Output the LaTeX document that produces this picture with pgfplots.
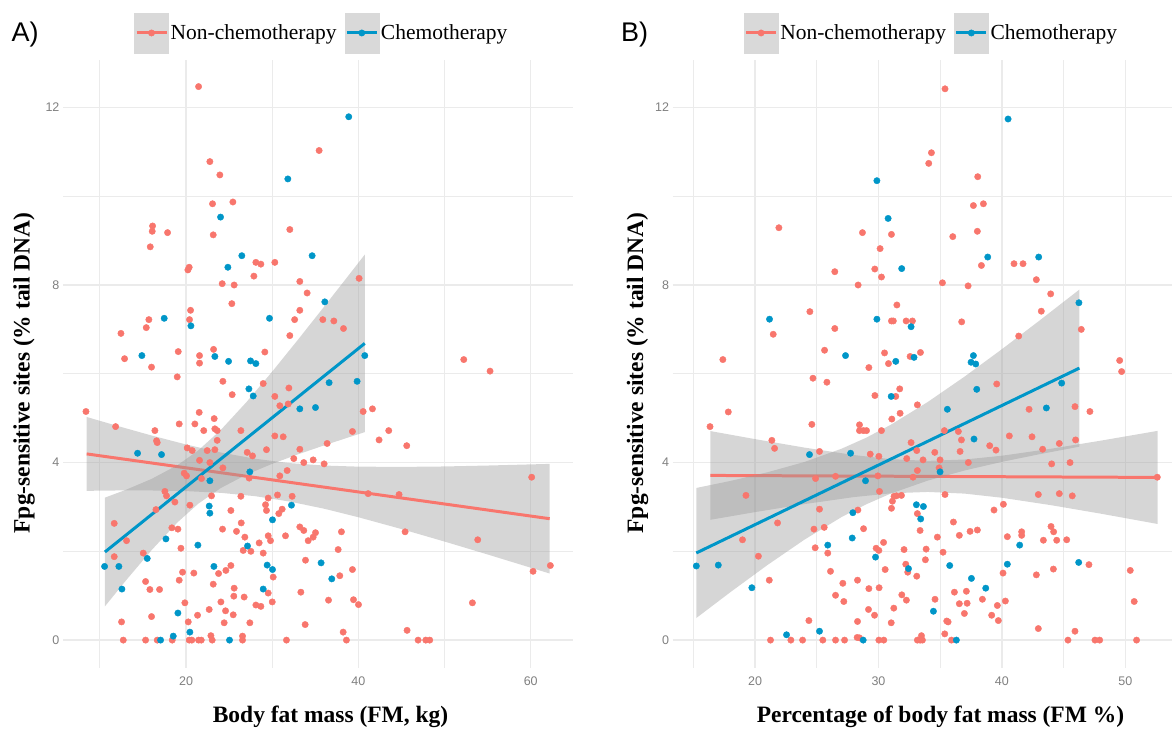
\documentclass[border=0pt]{standalone}
\usepackage{pgfplots}
\pgfplotsset{compat=1.18}
\usepackage{pgfplotstable}
\usepackage{fontspec}
\setmainfont{Liberation Serif}
\setsansfont{Liberation Sans}
\definecolor{salmon}{HTML}{F8766D}
\definecolor{chemo}{HTML}{0096C8}
\definecolor{gridgray}{HTML}{EBEBEB}
\definecolor{tickgray}{HTML}{7F7F7F}
\definecolor{bandgray}{HTML}{999999}
\definecolor{keygray}{HTML}{D9D9D9}

% ---------- Panel A: body fat mass (kg) ----------
\pgfplotstableread{
x y
21.45 12.47
35.44 11.03
22.76 10.78
23.92 10.48
23.07 9.83
25.43 9.87
16.11 9.33
16.07 9.21
17.85 9.18
23.15 9.13
32.04 9.25
15.84 8.86
20.36 8.40
20.21 8.34
28.10 8.51
28.68 8.47
30.30 8.51
27.87 8.20
24.19 8.03
25.58 8.00
33.20 8.08
34.05 7.82
25.31 7.58
33.20 7.43
32.60 7.22
35.87 7.22
37.15 7.19
20.52 7.43
20.40 7.22
15.68 7.22
15.38 7.04
12.44 6.91
32.04 6.86
12.86 6.34
19.09 6.50
15.99 6.15
21.56 6.41
21.56 6.24
23.19 6.55
29.14 6.49
18.97 5.93
24.27 5.83
38.27 7.02
40.08 8.15
52.23 6.32
55.28 6.06
40.55 5.15
41.63 5.21
39.31 4.70
43.52 4.72
42.40 4.51
45.61 4.38
36.37 4.43
33.20 4.30
33.66 4.00
34.75 4.06
36.02 3.97
41.13 3.30
44.72 3.28
60.11 3.67
33.20 2.55
33.66 2.47
34.17 2.24
34.75 2.32
35.02 2.42
38.03 2.44
45.42 2.44
53.85 2.26
37.65 2.04
33.86 1.80
37.84 1.45
39.31 1.59
60.27 1.55
62.28 1.68
33.32 1.08
36.53 0.90
39.43 0.91
40.01 0.80
53.23 0.84
33.82 0.35
38.23 0.18
38.61 0
45.65 0.22
46.93 0
47.82 0
48.28 0
28.95 5.78
31.93 5.68
25.35 5.53
30.30 5.49
30.88 5.28
31.85 5.32
8.38 5.15
11.82 4.81
16.38 4.72
16.57 4.49
16.65 4.45
19.20 4.87
21.02 4.87
21.52 5.13
23.26 4.99
22.05 4.72
23.34 4.76
23.61 4.72
23.61 4.50
26.36 4.72
30.30 4.60
31.27 4.58
20.13 4.33
20.71 4.27
22.45 4.27
23.34 4.29
27.09 4.23
27.71 4.15
29.33 4.29
32.50 4.09
21.56 4.05
22.76 4.00
24.27 3.88
19.78 3.76
20.05 3.70
21.79 3.64
27.32 3.65
30.88 3.70
31.73 3.82
17.54 3.35
17.73 3.25
18.70 3.11
20.44 3.04
22.95 3.25
26.36 3.24
30.61 3.27
32.31 3.24
29.53 3.20
29.22 3.05
29.33 2.92
31.15 2.95
30.76 2.85
16.50 2.94
11.66 2.63
25.20 2.92
26.40 2.64
24.23 2.50
25.85 2.45
26.82 2.32
28.48 2.19
29.53 2.35
29.80 2.24
31.54 2.35
18.35 2.53
19.05 2.50
13.09 2.24
26.63 2.02
27.52 2.00
28.95 1.96
19.40 2.07
11.66 1.88
15.03 1.96
19.59 1.53
20.90 1.51
23.77 1.50
24.62 1.57
25.20 1.68
30.11 1.42
15.30 1.32
19.20 1.35
15.80 1.14
16.92 1.14
23.15 1.26
25.58 1.17
25.54 0.99
26.74 0.97
29.53 1.06
30.00 0.86
19.86 0.84
24.04 0.86
28.10 0.79
28.68 0.76
22.68 0.69
24.58 0.66
25.47 0.57
15.99 0.53
21.33 0.56
20.25 0.41
12.51 0.41
24.42 0.39
27.40 0.39
22.88 0.10
26.55 0.09
12.71 0
15.30 0
16.65 0
18.39 0
20.36 0
20.67 0
21.45 0
21.76 0
23.03 0
26.55 0
31.65 0
}\tAN

\pgfplotstableread{
x y
31.81 10.39
24.00 9.53
26.47 8.66
34.63 8.66
24.85 8.40
36.10 7.62
17.46 7.25
29.68 7.25
20.56 7.08
14.87 6.41
23.34 6.39
24.93 6.28
27.48 6.29
28.10 6.23
38.88 11.79
40.74 6.41
39.85 5.83
36.60 5.80
33.20 5.21
35.02 5.24
35.67 1.74
36.91 1.38
27.29 5.66
27.79 5.50
14.37 4.21
17.15 4.18
22.76 3.59
27.40 3.79
22.68 3.02
22.76 2.86
32.23 3.04
30.03 2.71
17.66 2.28
21.37 2.14
27.13 2.12
15.49 1.84
10.54 1.66
12.20 1.66
23.23 1.66
29.41 1.69
30.03 1.59
12.55 1.15
28.95 1.15
19.05 0.61
20.44 0.18
18.51 0.09
17.04 0
25.04 0
}\tAC

% fitted lines, panel A
\pgfplotstableread{
x y
8.46 4.195
62.2 2.735
}\tAfitN
\pgfplotstableread{
x y
10.58 1.985
40.74 6.685
}\tAfitC
% 95% confidence bands (upper edge left to right, lower edge right to left)
\pgfplotstableread{
x y
8.46 5.027
12 4.827
16 4.609
20 4.407
24 4.228
28 4.086
32 3.988
36 3.933
40 3.908
45 3.902
50 3.912
55 3.933
62.2 3.970
62.2 1.500
55 1.929
50 2.220
45 2.502
40 2.768
36 2.961
32 3.122
28 3.243
24 3.318
20 3.357
16 3.371
12 3.371
8.46 3.363
}\tAbandN
\pgfplotstableread{
x y
10.58 3.210
13 3.385
16 3.632
19 3.942
21.4 4.271
24 4.729
27 5.360
30 6.050
33 6.771
36 7.507
38.5 8.127
40.74 8.685
40.74 4.685
38.5 4.545
36 4.385
33 4.186
30 3.972
27 3.728
24 3.423
21.4 3.071
19 2.652
16 2.028
13 1.339
10.58 0.760
}\tAbandC

% ---------- Panel B: percentage of body fat mass ----------
\pgfplotstableread{
x y
21.93 9.29
28.70 9.18
31.05 9.14
30.13 8.82
26.46 8.30
29.70 8.36
30.24 8.18
28.35 8.00
31.49 7.55
24.44 7.40
31.05 7.19
31.20 7.19
21.47 6.89
26.46 7.02
25.63 6.53
30.49 6.47
30.81 6.23
29.22 6.14
17.39 6.32
24.69 5.90
25.82 5.81
35.39 12.42
34.29 10.98
34.07 10.74
38.04 10.44
37.69 9.79
38.50 9.83
36.02 9.09
38.01 9.21
38.34 8.44
40.98 8.48
41.71 8.48
42.79 8.12
35.18 8.05
37.26 7.98
43.95 7.80
43.19 7.41
36.74 7.17
32.24 7.19
32.75 7.19
46.43 7.00
41.36 6.85
32.56 6.39
33.40 6.48
49.54 6.30
49.70 6.05
29.71 5.51
31.72 5.66
31.40 5.49
17.83 5.14
16.35 4.81
24.60 4.86
28.46 4.85
28.46 4.72
28.78 4.72
29.03 4.72
30.24 4.72
31.08 4.98
21.36 4.50
21.58 4.32
25.22 4.25
29.33 4.19
30.03 4.14
24.90 3.64
26.52 3.69
29.95 3.70
30.08 3.35
19.26 3.26
25.22 2.95
21.82 2.64
24.77 2.50
25.60 2.54
28.33 2.93
28.79 2.51
18.98 2.26
24.87 2.08
25.89 1.96
29.81 2.07
30.03 2.02
30.41 2.20
20.27 1.89
30.54 1.59
26.11 1.55
21.15 1.35
27.11 1.28
28.30 1.35
29.22 1.16
30.05 1.18
26.52 1.01
27.19 0.87
29.19 0.69
29.68 0.56
31.24 0.72
24.36 0.44
28.30 0.42
31.03 0.39
28.27 0.06
28.46 0.05
21.25 0
22.90 0
23.85 0
25.49 0
26.52 0
27.25 0
30.03 0
30.43 0
39.58 5.77
47.13 5.15
33.15 5.30
31.75 5.11
42.20 5.20
45.92 5.26
35.34 4.72
36.47 4.70
36.72 4.51
40.60 4.60
42.44 4.58
45.97 4.51
44.65 4.43
32.64 4.45
33.10 4.27
34.56 4.23
36.61 4.25
39.01 4.38
39.52 4.28
43.30 4.30
32.29 4.09
33.61 4.06
34.99 4.06
37.28 4.00
44.03 3.97
45.52 4.00
33.15 3.82
34.91 3.88
32.80 3.67
52.59 3.67
35.39 3.28
42.95 3.28
44.65 3.30
45.70 3.25
31.26 3.24
31.45 3.25
31.86 3.26
31.13 3.13
31.05 2.97
33.15 2.85
33.37 2.47
39.36 2.93
40.12 3.06
36.07 2.66
34.77 2.32
36.55 2.36
37.42 2.45
38.01 2.48
40.44 2.33
41.60 2.44
41.60 2.36
43.98 2.56
44.19 2.44
43.36 2.25
44.44 2.25
45.25 2.26
32.07 2.04
33.86 2.05
35.23 1.98
33.80 1.81
32.21 1.71
32.37 1.53
33.10 1.44
47.05 1.70
50.40 1.57
40.09 1.51
42.79 1.47
44.17 1.60
31.89 1.02
32.26 0.90
36.15 1.08
37.12 1.10
38.42 0.92
40.28 0.88
36.55 0.82
37.18 0.83
39.63 0.78
50.72 0.87
34.58 0.92
36.96 0.60
39.17 0.56
39.71 0.44
35.64 0.41
35.53 0.43
42.95 0.26
45.92 0.20
35.37 0.14
33.48 0.10
33.37 0
33.56 0
33.15 0
35.91 0
45.35 0
47.54 0
47.92 0
50.91 0
}\tBN

\pgfplotstableread{
x y
29.87 10.35
30.78 9.50
21.17 7.23
29.87 7.23
27.33 6.41
31.40 6.28
40.50 11.74
38.85 8.63
42.98 8.63
31.88 8.37
46.24 7.60
32.64 7.06
32.88 6.37
37.69 6.41
37.50 6.26
37.88 6.22
31.03 5.49
24.41 4.18
27.74 4.21
28.95 3.59
27.92 2.87
27.87 2.30
25.89 2.14
29.76 1.87
15.24 1.67
17.02 1.69
19.74 1.18
22.55 0.12
25.22 0.20
28.76 0
37.96 5.65
44.84 5.79
35.58 5.20
43.60 5.23
37.74 4.53
34.99 3.79
33.07 3.05
33.64 3.01
33.42 2.73
41.44 2.14
32.43 1.61
35.77 1.68
40.44 1.71
46.22 1.75
37.53 1.39
38.69 1.17
34.45 0.65
36.31 0
}\tBC

\pgfplotstableread{
x y
16.37 3.710
52.62 3.665
}\tBfitN
\pgfplotstableread{
x y
15.24 1.963
46.28 6.128
}\tBfitC
\pgfplotstableread{
x y
16.37 4.710
20 4.528
24 4.337
28 4.169
31 4.077
34 4.038
37 4.069
40 4.154
44 4.312
48 4.493
52.62 4.714
52.62 2.616
48 2.849
44 3.039
40 3.207
37 3.300
34 3.338
31 3.307
28 3.222
24 3.064
20 2.884
16.37 2.710
}\tBbandN
\pgfplotstableread{
x y
15.24 3.428
18 3.586
21 3.781
24 4.013
27 4.311
29 4.559
31 4.852
34 5.366
37 5.941
40 6.554
43 7.189
46.28 7.898
46.28 4.358
43 4.185
40 4.016
37 3.823
34 3.594
31 3.302
29 3.059
27 2.771
24 2.263
21 1.691
18 1.080
15.24 0.498
}\tBbandC

\pgfplotsset{
 panel/.style={
  scale only axis, height=608pt,
  ymin=-0.62, ymax=13.07,
  ytick={0,4,8,12}, minor ytick={2,6,10},
  grid=both,
  major grid style={draw=gridgray, line width=1.3pt},
  minor grid style={draw=gridgray, line width=0.9pt},
  axis line style={draw=none},
  major tick length=0pt, minor tick length=0pt,
  tick label style={font=\fontsize{12.5}{15}\selectfont\sffamily, text=tickgray},
  /pgf/number format/assume math mode=true,
  xticklabel style={yshift=-6pt},
  ylabel={Fpg-sensitive sites (\% tail DNA)},
  legend columns=2,
  legend style={draw=none, fill=none, font=\fontsize{21.5}{24}\selectfont,
    anchor=center, nodes={inner sep=2pt},
    /tikz/every even column/.append style={column sep=6pt}},
 },
 ptsN/.style={only marks, mark=*, mark size=3.2pt, color=salmon, forget plot},
 ptsC/.style={only marks, mark=*, mark size=3.2pt, color=chemo, forget plot},
 band/.style={fill=bandgray, fill opacity=0.4, draw=none, no marks, forget plot},
 fitN/.style={color=salmon, line width=3pt, no marks, forget plot},
 fitC/.style={color=chemo, line width=3pt, no marks, forget plot},
}

\begin{document}
\begin{tikzpicture}
% ===== Panel A =====
\begin{axis}[panel, at={(63pt,61pt)}, anchor=south west, width=510pt,
  xmin=5.71, xmax=64.87,
  xtick={20,40,60}, minor xtick={10,30,50},
  xlabel={Body fat mass (FM, kg)},
  every axis x label/.style={at={(rel axis cs:0.525,0)}, yshift=-49pt, anchor=center,
     font=\fontsize{23.5}{27}\selectfont\bfseries},
  every axis y label/.style={at={(rel axis cs:0,0.485)}, xshift=-39pt, rotate=90, anchor=center,
     font=\fontsize{23.5}{27}\selectfont\bfseries},
  legend style={at={(rel axis cs:0.508,1.0444)}},
]
\addplot[ptsN] table[x=x,y=y] {\tAN};
\addplot[ptsC] table[x=x,y=y] {\tAC};
\addplot[band] table[x=x,y=y] {\tAbandN};
\addplot[fitN] table[x=x,y=y] {\tAfitN};
\addplot[band] table[x=x,y=y] {\tAbandC};
\addplot[fitC] table[x=x,y=y] {\tAfitC};
\addlegendimage{legend image code/.code={
   \fill[keygray] (0pt,-20pt) rectangle (34pt,20pt);
   \draw[salmon, line width=3pt] (2pt,0pt) -- (32pt,0pt);
   \fill[salmon] (17pt,0pt) circle (3.2pt);}}
\addlegendentry{Non-chemotherapy}
\addlegendimage{legend image code/.code={
   \fill[keygray] (0pt,-20pt) rectangle (34pt,20pt);
   \draw[chemo, line width=3pt] (2pt,0pt) -- (32pt,0pt);
   \fill[chemo] (17pt,0pt) circle (3.2pt);}}
\addlegendentry{Chemotherapy}
\end{axis}

% ===== Panel B =====
\begin{axis}[panel, at={(673pt,61pt)}, anchor=south west, width=500pt,
  xmin=13.32, xmax=53.81,
  xtick={20,30,40,50}, minor xtick={15,25,35,45},
  xlabel={Percentage of body fat mass (FM \%)},
  every axis x label/.style={at={(rel axis cs:0.536,0)}, yshift=-49pt, anchor=center,
     font=\fontsize{23.5}{27}\selectfont\bfseries},
  every axis y label/.style={at={(rel axis cs:0,0.485)}, xshift=-35pt, rotate=90, anchor=center,
     font=\fontsize{23.5}{27}\selectfont\bfseries},
  legend style={at={(rel axis cs:0.518,1.0444)}},
]
\addplot[ptsN] table[x=x,y=y] {\tBN};
\addplot[ptsC] table[x=x,y=y] {\tBC};
\addplot[band] table[x=x,y=y] {\tBbandN};
\addplot[fitN] table[x=x,y=y] {\tBfitN};
\addplot[band] table[x=x,y=y] {\tBbandC};
\addplot[fitC] table[x=x,y=y] {\tBfitC};
\addlegendimage{legend image code/.code={
   \fill[keygray] (0pt,-20pt) rectangle (34pt,20pt);
   \draw[salmon, line width=3pt] (2pt,0pt) -- (32pt,0pt);
   \fill[salmon] (17pt,0pt) circle (3.2pt);}}
\addlegendentry{Non-chemotherapy}
\addlegendimage{legend image code/.code={
   \fill[keygray] (0pt,-20pt) rectangle (34pt,20pt);
   \draw[chemo, line width=3pt] (2pt,0pt) -- (32pt,0pt);
   \fill[chemo] (17pt,0pt) circle (3.2pt);}}
\addlegendentry{Chemotherapy}
\end{axis}

\node[anchor=west, font=\fontsize{27}{30}\selectfont\sffamily] at (8pt,694pt) {A)};
\node[anchor=west, font=\fontsize{27}{30}\selectfont\sffamily] at (618pt,694pt) {B)};
\useasboundingbox (0pt,0pt) rectangle (1173pt,729pt);
\end{tikzpicture}
\end{document}
